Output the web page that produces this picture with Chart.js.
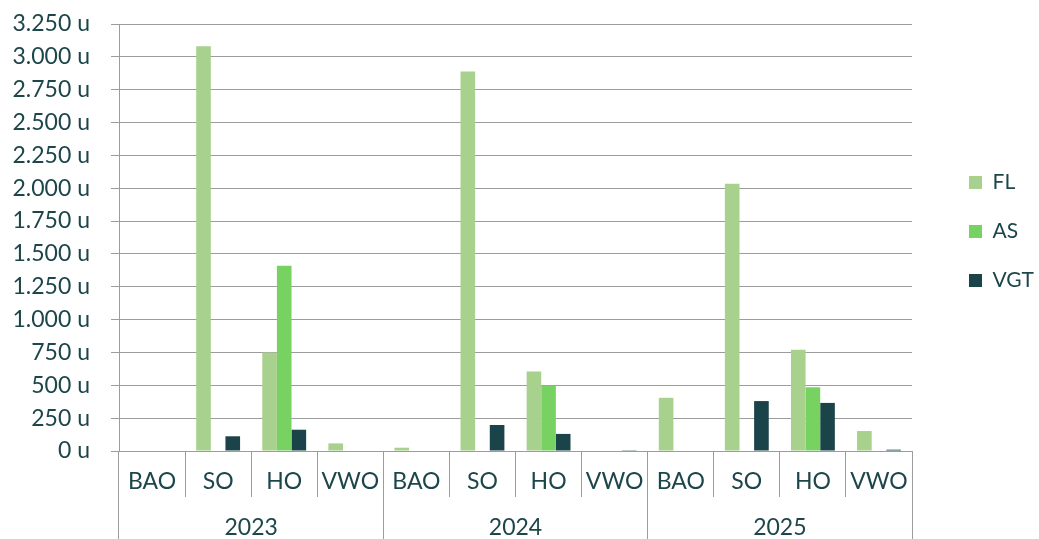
<!DOCTYPE html>
<html>
<head>
<meta charset="utf-8">
<script src="https://cdn.jsdelivr.net/npm/chart.js@4/dist/chart.umd.min.js"></script>
<style>
  html, body { margin: 0; padding: 0; background: #fff; }
  #wrap { width: 1039px; height: 539px; }
</style>
</head>
<body>
<div id="wrap"><canvas id="chart"></canvas></div>
<script>
// categorieën (per jaar) en jaren
const categories = ['BAO', 'SO', 'HO', 'VWO', 'BAO', 'SO', 'HO', 'VWO', 'BAO', 'SO', 'HO', 'VWO'];
const years = ['2023', '2024', '2025'];

// waarden per reeks
const flValues = [0, 3080, 750, 58, 25, 2888, 605, 0, 405, 2035, 770, 152];
const asValues = [0, 0, 1410, 0, 0, 0, 498, 0, 0, 0, 485, 0];
const vgtValues = [0, 112, 162, 0, 0, 198, 130, 6, 0, 380, 366, 10];

const textColor = '#1d464b';
const gridColor = '#9c9c9c';

function formatUren(v) {
    return String(v).replace(/\B(?=(\d{3})+(?!\d))/g, '.') + ' u';
}

const ctx = document.getElementById('chart').getContext('2d');
const chart = new Chart(ctx, {
    type: 'bar',
    data: {
        labels: categories,
        datasets: [
            { label: 'FL', data: flValues, backgroundColor: '#a9d18e', xAxisID: 'x' },
            { label: 'AS', data: asValues, backgroundColor: '#78d262', xAxisID: 'x' },
            { label: 'VGT', data: vgtValues, backgroundColor: '#1b434a', xAxisID: 'x' }
        ]
    },
    options: {
        responsive: true,
        maintainAspectRatio: false,
        animation: false,
        layout: { padding: { top: 24, left: 0, right: -5, bottom: 0 } },
        datasets: {
            bar: { categoryPercentage: 0.664, barPercentage: 1.0, borderWidth: 0 }
        },
        plugins: {
            tooltip: { enabled: false },
            legend: {
                position: 'right',
                fullSize: false,
                align: 'start',
                // lege titel als ruimte boven de legenda
                title: {
                    display: true,
                    text: '',
                    font: { size: 20 },
                    padding: { top: 48, bottom: 48 }
                },
                labels: {
                    color: textColor,
                    font: { family: 'Lato', size: 21 },
                    boxWidth: 13,
                    boxHeight: 13,
                    padding: 28
                }
            }
        },
        scales: {
            x: {
                type: 'category',
                position: 'bottom',
                weight: 1,
                offset: true,
                grid: {
                    offset: true,
                    drawOnChartArea: false,
                    tickLength: 46,
                    color: gridColor
                },
                border: { display: true, color: gridColor },
                ticks: {
                    color: textColor,
                    font: { family: 'Lato', size: 23 },
                    padding: -29,
                    maxRotation: 0,
                    autoSkip: false
                },
                afterFit: function(scale) { scale.height = 46; }
            },
            x2: {
                type: 'category',
                position: 'bottom',
                weight: 2,
                labels: years,
                offset: true,
                grid: {
                    offset: true,
                    drawOnChartArea: false,
                    tickLength: 42,
                    color: gridColor
                },
                border: { display: false },
                ticks: {
                    color: textColor,
                    font: { family: 'Lato', size: 23 },
                    padding: -25,
                    maxRotation: 0,
                    autoSkip: false
                },
                afterFit: function(scale) { scale.height = 42; }
            },
            y: {
                min: 0,
                max: 3250,
                grid: { color: gridColor, tickLength: 8 },
                border: { display: true, color: gridColor },
                ticks: {
                    stepSize: 250,
                    color: textColor,
                    font: { family: 'Lato', size: 23 },
                    padding: 21,
                    callback: function(value) { return formatUren(value); }
                },
                afterFit: function(scale) {
                    scale.width = 119;
                    scale.paddingTop = 0;
                    scale.paddingBottom = 0;
                }
            },
            // lege as als ruimte tussen grafiek en legenda
            yGap: {
                position: 'right',
                display: true,
                grid: { display: false },
                border: { display: false },
                ticks: { display: false },
                afterFit: function(scale) { scale.width = 29; }
            }
        }
    }
});
</script>
</body>
</html>
